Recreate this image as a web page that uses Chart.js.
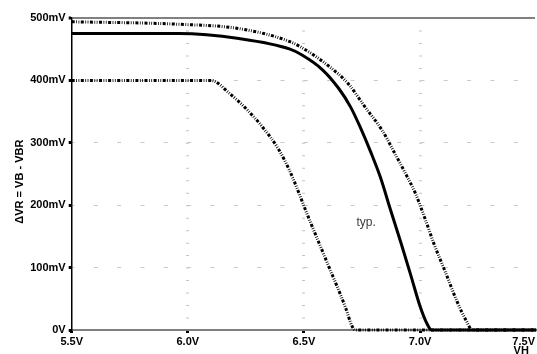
<!DOCTYPE html>
<html>
<head>
<meta charset="utf-8">
<script src="https://cdn.jsdelivr.net/npm/chart.js@4"></script>
<style>
  html, body { margin: 0; padding: 0; background: #fff; overflow: hidden; }
</style>
</head>
<body>
<canvas id="chart" width="537" height="354"></canvas>
<script>
// ── Data ──────────────────────────────────────────────────────
// typical curve (solid)
const typVolts = [5.5, 5.96, 6.22, 6.44, 6.49, 6.58, 6.65, 6.70, 6.74, 6.79, 6.83, 6.87, 6.92, 6.96, 7.0, 7.03, 7.05, 7.5];
const typMv    = [475, 475, 467, 450, 441, 417, 387, 358, 327, 283, 244, 196, 137, 88, 38, 10, 0, 0];

// upper limit (dash-dot-dot)
const maxVolts = [5.5, 5.96, 6.22, 6.44, 6.52, 6.61, 6.69, 6.76, 6.84, 6.89, 6.94, 6.98, 7.02, 7.06, 7.11, 7.16, 7.2, 7.225, 7.5];
const maxMv    = [494, 490, 483, 462, 446, 422, 395, 359, 318, 284, 249, 219, 180, 138, 92, 45, 14, 0, 0];

// lower limit (dash-dot-dot)
const minVolts = [5.5, 6.1, 6.18, 6.25, 6.32, 6.39, 6.44, 6.52, 6.6, 6.68, 6.705, 6.72, 7.5];
const minMv    = [400, 400, 379, 355, 326, 290, 254, 180, 108, 35, 8, 0, 0];

const xTickVals   = [5.5, 6.0, 6.5, 7.0, 7.5];
const xTickLabels = ["5.5V", "6.0V", "6.5V", "7.0V", "7.5V"];
const yTickVals   = [0, 100, 200, 300, 400, 500];
const yTickLabels = ["0V", "100mV", "200mV", "300mV", "400mV", "500mV"];

const X_MIN = 5.5;
const X_MAX = 7.495;          // plot is cut just short of 7.5V on the right
const TYP_LABEL = "typ.";
const TYP_AT    = [6.726, 167];

// ── Helpers ───────────────────────────────────────────────────
const FONT = '"Liberation Sans", Arial, sans-serif';
const NONE = "rgba(0,0,0,0)";
const NBSP = "\u00a0";
const pts  = (xs, ys) => xs.map((v, i) => ({ x: v, y: ys[i] }));
const DASH_DOT_DOT = [3, 1.5, 0.8, 1.5, 0.8, 1.5];

// "typ." annotation
const annotate = {
  id: "annotate",
  afterDatasetsDraw(chart) {
    const { ctx, scales: { x, y } } = chart;
    ctx.save();
    ctx.font = "12px " + FONT;
    ctx.fillStyle = "#3c3c3c";
    ctx.textAlign = "left";
    ctx.textBaseline = "alphabetic";
    ctx.fillText(TYP_LABEL, x.getPixelForValue(TYP_AT[0]), y.getPixelForValue(TYP_AT[1]));
    ctx.restore();
  },
};

const lineDefaults = {
  borderColor: "#000",
  borderWidth: 3,
  pointRadius: 0,
  fill: false,
  clip: false,
  cubicInterpolationMode: "monotone",
};

new Chart(document.getElementById("chart"), {
  type: "line",
  data: {
    datasets: [
      { ...lineDefaults, data: pts(maxVolts, maxMv), borderDash: DASH_DOT_DOT },
      { ...lineDefaults, data: pts(minVolts, minMv), borderDash: DASH_DOT_DOT },
      { ...lineDefaults, data: pts(typVolts, typMv) },
    ],
  },
  plugins: [annotate],
  options: {
    responsive: false,
    animation: false,
    layout: { padding: { top: 18, right: 0, bottom: 0, left: 0 } },
    plugins: { legend: { display: false }, tooltip: { enabled: false } },
    scales: {
      x: {
        type: "linear",
        min: X_MIN,
        max: X_MAX,
        afterBuildTicks: s => {
          // blank leading tick so the "inner" alignment only affects the last label
          s.ticks = [{ value: X_MIN }].concat(xTickVals.map(v => ({ value: Math.min(v, X_MAX) })));
        },
        afterFit: s => { s.height = 24; },
        ticks: {
          autoSkip: false,
          maxRotation: 0,
          align: "inner",
          padding: 2,
          color: "#000",
          font: { family: FONT, size: 11, weight: "bold" },
          callback: (v, i) => (i === 0 ? "" : xTickLabels[i - 1]),
        },
        grid: {
          color: c => (c.tick && c.tick.value > X_MIN + 1e-6 && c.tick.value < X_MAX - 1e-6 ? "#c4c4c4" : NONE),
          lineWidth: 3,
          tickColor: c => (c.index === xTickVals.length ? NONE : "#000"),
          tickLength: 3,
          tickWidth: 3,
        },
        border: { color: "#808080", width: 2, dash: [1, 11.48] },
        title: {
          display: true,
          text: "VH" + NBSP + NBSP,
          align: "end",
          color: "#000",
          font: { family: FONT, size: 11, weight: "bold" },
          padding: { top: 0, bottom: -4 },
        },
      },
      y: {
        min: 0,
        max: 500,
        afterBuildTicks: s => { s.ticks = yTickVals.map(v => ({ value: v })); },
        afterFit: s => { s.width = 71.7; },
        ticks: {
          padding: 3,
          color: "#000",
          font: { family: FONT, size: 11, weight: "bold" },
          callback: (v, i) => yTickLabels[i],
        },
        grid: {
          color: c => (!c.tick ? NONE : c.tick.value === 500 ? "#808080" : c.tick.value === 0 ? NONE : "#c8c8c8"),
          lineWidth: c => (c.tick && c.tick.value === 500 ? 2 : 1),
          tickColor: "#000",
          tickLength: 3,
          tickWidth: 3,
        },
        border: {
          color: "#000",
          width: 1.5,
          dash: c => (c.tick && c.tick.value === 500 ? [] : [4, 19.33]),
          dashOffset: 2,
        },
        title: {
          display: true,
          // trailing spaces nudge the rotated title down to where the original sits
          text: "ΔVR = VB - VBR" + NBSP.repeat(5),
          color: "#000",
          font: { family: FONT, size: 11, weight: "bold" },
          padding: { top: 13, bottom: 0 },
        },
      },
    },
  },
});
</script>
</body>
</html>
